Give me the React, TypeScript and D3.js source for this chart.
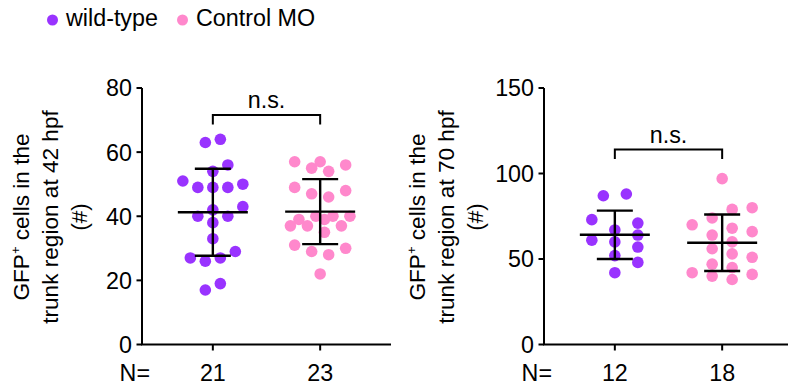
import React from 'react';
import * as d3 from 'd3';

// ---------- data ----------
const groups = ['wild-type', 'Control MO'];
const groupColors = ['#9933FF', '#FF88CC'];

const wt42 = [64, 63, 56, 54, 51, 49, 49, 49, 50, 43, 42, 40, 40, 38, 33, 27, 27, 26, 29, 19, 17];
const mo42 = [57, 55, 56, 54, 57, 48, 46, 47, 49, 40, 40, 40, 39, 39, 37, 37, 37, 35, 31, 29, 28, 30, 22];
const wt70 = [88, 87, 71, 73, 67, 60, 61, 64, 57, 52, 48, 42];
const mo70 = [97, 80, 79, 74, 70, 68, 66, 64, 60, 56, 53, 51, 47, 45, 42, 40, 41, 38];

const ticks42 = [0, 20, 40, 60, 80];
const ticks70 = [0, 50, 100, 150];

const title42 = ['GFP', 'cells in the', 'trunk region at 42 hpf', '(#)'];
const title70 = ['GFP', 'cells in the', 'trunk region at 70 hpf', '(#)'];
const sigLabel = 'n.s.';

// ---------- style / layout ----------
const FONT = "'Liberation Sans', Arial, Helvetica, sans-serif";
const FS = 23.3;
const TFS = 22.6;
const R = 5.8;
const D = 11.5;

type Pt = { v: number; y: number; off: number };

function swarm(values: number[], y: (v: number) => number, cols: number, spacing: number): Pt[] {
  const slots = d3
    .range(cols)
    .map((i) => (i - (cols - 1) / 2) * spacing)
    .sort((a, b) => Math.abs(a) - Math.abs(b) || b - a);
  const pts: Pt[] = values.map((v) => ({ v, y: y(v), off: 0 })).sort((a, b) => a.v - b.v);
  const clusters: Pt[][] = [];
  pts.forEach((p, k) => {
    if (k === 0 || Math.abs(p.y - pts[k - 1].y) >= D) clusters.push([]);
    clusters[clusters.length - 1].push(p);
  });
  clusters.forEach((cl) => {
    const placed: Pt[] = [];
    cl.forEach((p) => {
      let chosen: number | null = null;
      let bestD = -1;
      let bestOff = slots[0];
      for (const s of slots) {
        const dmin = placed.length ? (d3.min(placed, (q) => Math.hypot(s - q.off, p.y - q.y)) as number) : Infinity;
        if (dmin >= D) {
          chosen = s;
          break;
        }
        if (dmin > bestD) {
          bestD = dmin;
          bestOff = s;
        }
      }
      p.off = chosen ?? bestOff;
      placed.push(p);
    });
    const singleRow = cl.every((p) => cl.every((q) => Math.abs(p.y - q.y) < D));
    if (singleRow) {
      const [lo, hi] = d3.extent(cl, (p) => p.off) as [number, number];
      const sh = (lo + hi) / 2;
      cl.forEach((p) => (p.off -= sh));
    }
  });
  return pts;
}

type PanelProps = {
  axisX: number;
  ymax: number;
  ticks: number[];
  series: number[][];
  layouts: [number, number][];
  title: string[];
  titleGap: number;
  sigValue: number;
};

function Panel({ axisX, ymax, ticks, series, layouts, title, titleGap, sigValue }: PanelProps) {
  const y = d3.scaleLinear().domain([0, ymax]).range([344.5, 88]);
  const x = d3.scalePoint<string>().domain(groups).range([axisX, axisX + 249]).padding(0.66);
  const bracketY = y(sigValue);
  const x0 = x(groups[0]) as number;
  const x1 = x(groups[1]) as number;
  const titleX = axisX - titleGap;
  return (
    <g>
      {/* title */}
      <text
        transform={`translate(${titleX},217) rotate(-90)`}
        textAnchor="middle"
        fontSize={TFS}
        fontFamily={FONT}
        fill="#000"
      >
        <tspan x={0} y={-29}>
          {title[0]}
          <tspan fontSize={13} dy={-9}>
            +
          </tspan>
          <tspan dy={9}> {title[1]}</tspan>
        </tspan>
        <tspan x={0} y={0}>
          {title[2]}
        </tspan>
        <tspan x={0} y={29}>
          {title[3]}
        </tspan>
      </text>
      {/* y axis */}
      <line x1={axisX} x2={axisX} y1={y(ymax)} y2={y(0)} stroke="#000" strokeWidth={2} />
      {ticks.map((t) => (
        <g key={t}>
          <line x1={axisX - 5.5} x2={axisX} y1={y(t)} y2={y(t)} stroke="#000" strokeWidth={2} />
          <text
            x={axisX - 10}
            y={y(t)}
            dy="0.36em"
            textAnchor="end"
            fontSize={FS}
            fontFamily={FONT}
            fill="#000"
          >
            {t}
          </text>
        </g>
      ))}
      {/* x axis */}
      <line x1={axisX - 1} x2={axisX + 249} y1={y(0)} y2={y(0)} stroke="#000" strokeWidth={2} />
      {groups.map((g, gi) => (
        <g key={g}>
          <line x1={x(g)} x2={x(g)} y1={y(0)} y2={y(0) + 6} stroke="#000" strokeWidth={2} />
          <text x={x(g)} y={380.5} textAnchor="middle" fontSize={FS} fontFamily={FONT} fill="#000">
            {series[gi].length}
          </text>
        </g>
      ))}
      <text x={axisX + 8} y={380.5} textAnchor="end" fontSize={FS} fontFamily={FONT} fill="#000">
        N=
      </text>
      {/* points */}
      {series.map((vals, gi) => {
        const cx = x(groups[gi]) as number;
        const pts = swarm(vals, y, layouts[gi][0], layouts[gi][1]);
        return (
          <g key={gi}>
            {pts.map((p, i) => (
              <circle key={i} cx={cx + p.off} cy={p.y} r={R} fill={groupColors[gi]} />
            ))}
          </g>
        );
      })}
      {/* mean ± SD */}
      {series.map((vals, gi) => {
        const cx = x(groups[gi]) as number;
        const m = d3.mean(vals) as number;
        const sd = d3.deviation(vals) as number;
        return (
          <g key={'e' + gi} stroke="#000" strokeWidth={2.4}>
            <line x1={cx - 35} x2={cx + 35} y1={y(m)} y2={y(m)} />
            <line x1={cx} x2={cx} y1={y(m + sd)} y2={y(m - sd)} />
            <line x1={cx - 18} x2={cx + 18} y1={y(m + sd)} y2={y(m + sd)} />
            <line x1={cx - 18} x2={cx + 18} y1={y(m - sd)} y2={y(m - sd)} />
          </g>
        );
      })}
      {/* significance */}
      <path
        d={`M${x0},${bracketY + 9.5}V${bracketY}H${x1}V${bracketY + 9.5}`}
        fill="none"
        stroke="#000"
        strokeWidth={2}
      />
      <text
        x={(x0 + x1) / 2}
        y={bracketY - 7}
        textAnchor="middle"
        fontSize={FS}
        fontFamily={FONT}
        fill="#000"
      >
        {sigLabel}
      </text>
    </g>
  );
}

export default function App() {
  return (
    <svg
      width={788}
      height={389}
      style={{ position: 'absolute', left: 0, top: 0, background: '#fff' }}
    >
      <rect width={788} height={389} fill="#fff" />
      {/* legend */}
      {groups.map((g, i) => {
        const lx = i === 0 ? 52.5 : 182.5;
        return (
          <g key={g}>
            <circle cx={lx} cy={20} r={5.5} fill={groupColors[i]} />
            <text x={lx + 13.5} y={25.5} fontSize={FS} fontFamily={FONT} fill="#000">
              {g}
            </text>
          </g>
        );
      })}
      <Panel
        axisX={142}
        ymax={80}
        ticks={ticks42}
        series={[wt42, mo42]}
        layouts={[
          [5, 15],
          [8, 8.5],
        ]}
        title={title42}
        titleGap={84}
        sigValue={71.6}
      />
      <Panel
        axisX={544}
        ymax={150}
        ticks={ticks70}
        series={[wt70, mo70]}
        layouts={[
          [3, 23],
          [4, 20],
        ]}
        title={title70}
        titleGap={90.5}
        sigValue={114}
      />
    </svg>
  );
}
